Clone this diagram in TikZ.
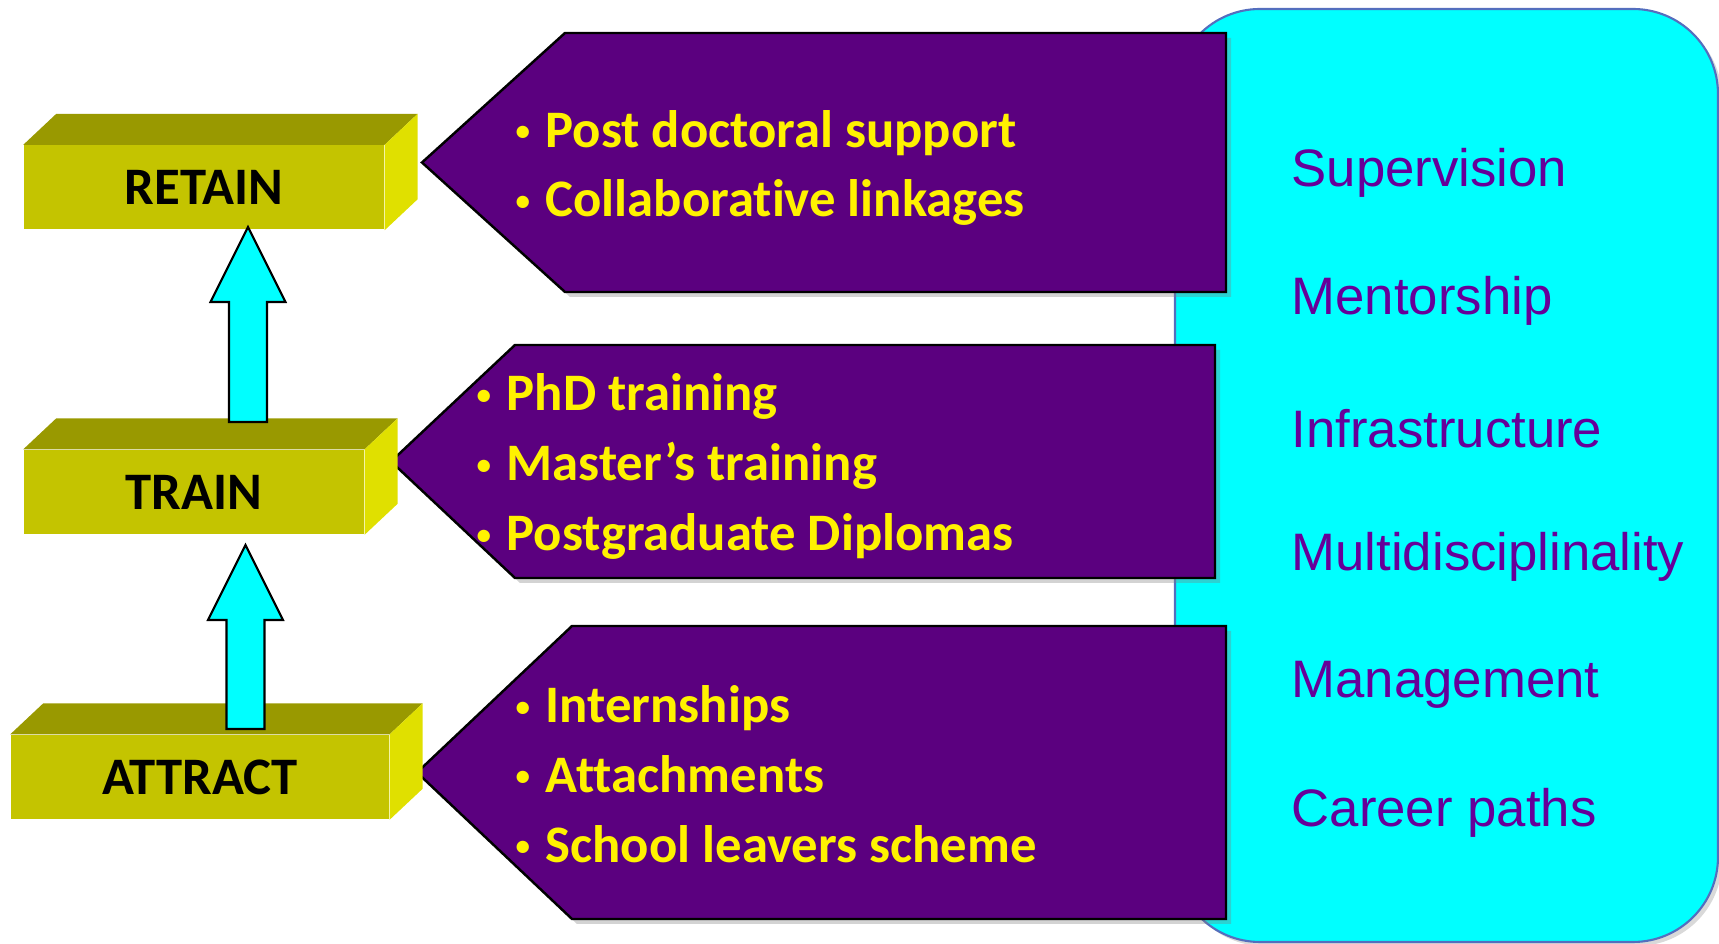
\documentclass[tikz,border=0pt]{standalone}
\usepackage{fontspec}
\setmainfont{Carlito}[Ligatures=NoCommon]
\newfontfamily\arialfont{Liberation Sans}
\usetikzlibrary{positioning, calc, shadows}
\definecolor{boxfront}{RGB}{196,196,0}
\definecolor{boxtop}{RGB}{153,153,0}
\definecolor{boxside}{RGB}{224,224,0}
\definecolor{calloutpurple}{RGB}{91,0,127}
\definecolor{listpurple}{RGB}{102,0,153}
\definecolor{panelline}{RGB}{84,110,190}
\definecolor{aqua}{RGB}{0,255,255}
\newcommand{\bul}{\makebox[0.30cm][l]{\raisebox{0.12em}{\scalebox{0.55}{•}}}} % small bullet
\tikzset{
stage/.style={ % front face of each yellow block
fill=boxfront, minimum height=0.84cm, inner sep=0pt,
font=\fontsize{15}{17}\selectfont\bfseries},
callout/.style={ % purple pointers
fill=calloutpurple, draw=black, line width=0.7pt,
drop shadow={shadow xshift=0.05cm, shadow yshift=-0.05cm, opacity=0.35}},
panel/.style={ % cyan box on the right
fill=aqua, draw=panelline, line width=0.6pt, rounded corners=0.85cm,
drop shadow={shadow xshift=0.04cm, shadow yshift=-0.04cm, opacity=0.3}},
items/.style={ % yellow bullet lists
text=yellow, anchor=west, align=left, inner sep=0pt,
font=\fontsize{15}{19.9}\selectfont\bfseries},
theme/.style={ % right hand column
text=listpurple, anchor=west, inner sep=0pt,
font=\arialfont\fontsize{15}{18}\selectfont},
blockarrow/.style={ % cyan block arrows
draw=black, fill=aqua, line width=0.6pt,
to path={($(\tikztostart)+(-0.19,0)$) -- ($(\tikztotarget)+(-0.19,-0.75)$)
 -- ($(\tikztotarget)+(-0.375,-0.75)$) -- (\tikztotarget)
 -- ($(\tikztotarget)+(0.375,-0.75)$) -- ($(\tikztotarget)+(0.19,-0.75)$)
 -- ($(\tikztostart)+(0.19,0)$) -- cycle}}
}

\begin{document}
\begin{tikzpicture}
    \useasboundingbox (0,0) rectangle (17.19,9.44);

    \draw[panel] (11.75,0.02) rectangle (17.18,9.35);

    \draw[callout] (4.22,7.815) -- (5.65,9.11) -- (12.26,9.11) -- (12.26,6.52) -- (5.65,6.52) -- cycle;
    \draw[callout] (3.91,4.825) -- (5.15,5.99) -- (12.15,5.99) -- (12.15,3.66) -- (5.15,3.66) -- cycle;
    \draw[callout] (4.17,1.715) -- (5.72,3.18) -- (12.26,3.18) -- (12.26,0.25) -- (5.72,0.25) -- cycle;

    \node[items] (retainlist) at (5.15,7.76) {\bul Post doctoral support\\\bul Collaborative linkages};
    \node[items] (trainlist) at (4.76,4.775) {\bul PhD training\\\bul Master’s training\\\bul Postgraduate Diplomas};
    \node[items] (attractlist) at (5.15,1.70) {\bul Internships\\\bul Attachments\\\bul School leavers scheme};

    \foreach \t [count=\i] in {Supervision, Mentorship, Infrastructure, Multidisciplinality, Management, Career paths}
        \node[theme] (theme\i) at (12.91,{7.71-1.28*(\i-1)}) {\t};

    \node[stage, minimum width=3.60cm] (retain) at (2.04,7.565) {RETAIN};
    \node[stage, minimum width=3.40cm] (train) at (1.94,4.52) {TRAIN};
    \node[stage, minimum width=3.78cm] (attract) at (2.00,1.67) {ATTRACT};

    \foreach \n in {retain,train,attract}{
        \fill[boxtop] (\n.north west) -- ++(0.33,0.31) -- ([shift={(0.33,0.31)}]\n.north east) -- (\n.north east) -- cycle;
        \fill[boxside] (\n.north east) -- ([shift={(0.33,0.31)}]\n.north east) -- ([shift={(0.33,0.31)}]\n.south east) -- (\n.south east) -- cycle;
    }

    \coordinate (trainfoot) at (2.48,5.22);
    \coordinate (retaintip) at (2.48,7.17);
    \coordinate (attractfoot) at (2.455,2.15);
    \coordinate (traintip) at (2.455,3.99);

    \draw[blockarrow] (trainfoot) to (retaintip);
    \draw[blockarrow] (attractfoot) to (traintip);

\end{tikzpicture}
\end{document}
